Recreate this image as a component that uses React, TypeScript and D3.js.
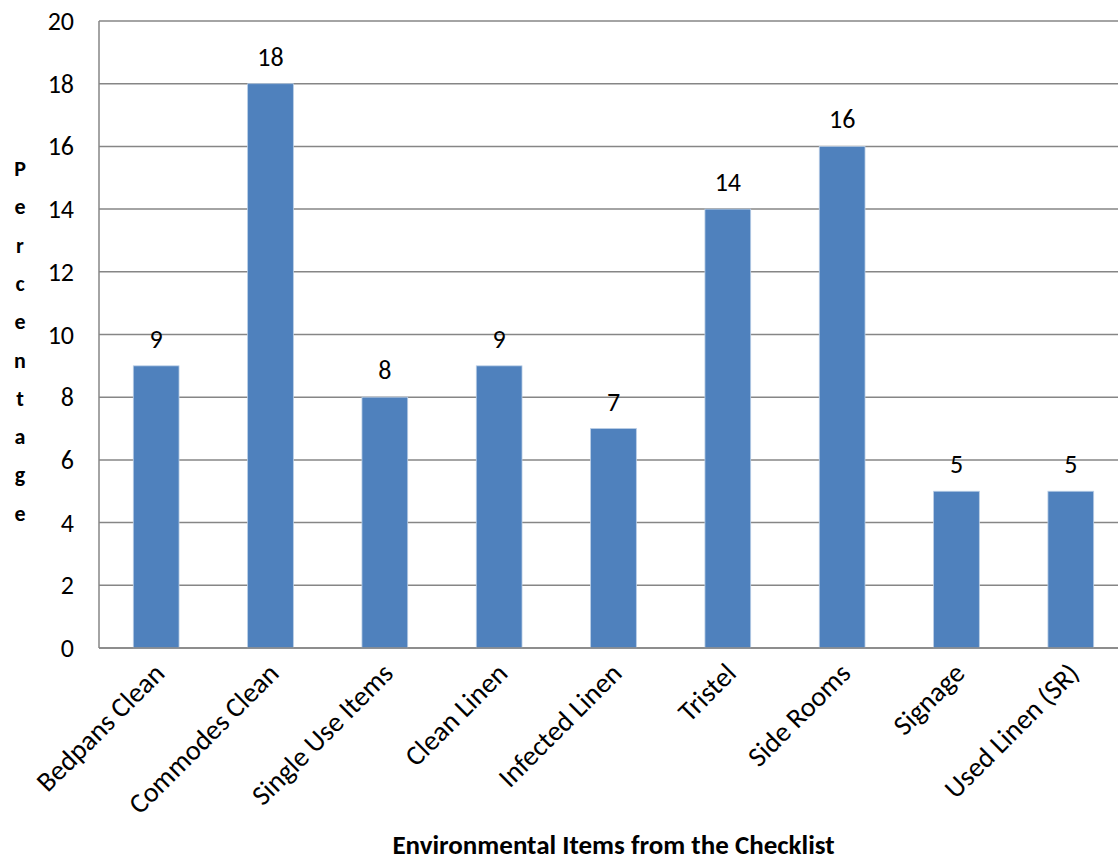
import React from "react";
import * as d3 from "d3";

const categories = [
  "Bedpans Clean",
  "Commodes Clean",
  "Single Use Items",
  "Clean Linen",
  "Infected Linen",
  "Tristel",
  "Side Rooms",
  "Signage",
  "Used Linen (SR)",
];
const values = [9, 18, 8, 9, 7, 14, 16, 5, 5];
const yTicks = [0, 2, 4, 6, 8, 10, 12, 14, 16, 18, 20];
const yTitle = "Percentage";
const xTitle = "Environmental Items from the Checklist";

const W = 1118;
const H = 860;
const FONT = "Carlito, Lato, 'Open Sans', sans-serif";

export default function App() {
  const left = 99;
  const step = 114.33;
  const x = d3
    .scaleBand<string>()
    .domain(categories)
    .range([left, left + step * categories.length])
    .paddingInner(0.6)
    .paddingOuter(0.3);
  const y = d3.scaleLinear().domain([0, 20]).range([648, 21]);

  return (
    <svg
      width={W}
      height={H}
      style={{ position: "absolute", left: 0, top: 0, display: "block", background: "#fff" }}
      fontFamily={FONT}
    >
      {/* gridlines */}
      {yTicks.map((t) => (
        <line
          key={"g" + t}
          x1={left}
          x2={W}
          y1={y(t)}
          y2={y(t)}
          stroke="#868686"
          strokeWidth={1.5}
        />
      ))}
      {/* y axis line */}
      <line x1={left} x2={left} y1={y(20)} y2={y(0)} stroke="#868686" strokeWidth={1.5} />
      {/* bars */}
      {categories.map((c, i) => (
        <rect
          key={c}
          x={x(c)}
          y={y(values[i])}
          width={x.bandwidth()}
          height={y(0) - y(values[i])}
          fill="#4F81BD"
          stroke="#B9CDE5"
          strokeWidth={0.8}
        />
      ))}
      {/* baseline */}
      <line x1={left} x2={W} y1={y(0)} y2={y(0)} stroke="#868686" strokeWidth={1.5} />
      {/* value labels */}
      {categories.map((c, i) => (
        <text
          key={"v" + c}
          x={(x(c) as number) + x.bandwidth() / 2}
          y={y(values[i]) - 18}
          textAnchor="middle"
          fontSize={26}
          fill="#000"
        >
          {values[i]}
        </text>
      ))}
      {/* y tick labels */}
      {yTicks.map((t) => (
        <text
          key={"t" + t}
          x={74}
          y={y(t) + 9}
          textAnchor="end"
          fontSize={26}
          fill="#000"
        >
          {t}
        </text>
      ))}
      {/* category labels */}
      {categories.map((c) => {
        const cx = (x(c) as number) + x.bandwidth() / 2 + 10;
        const cy = 675;
        return (
          <text
            key={"c" + c}
            transform={`translate(${cx},${cy}) rotate(-45)`}
            textAnchor="end"
            fontSize={28}
            fill="#000"
          >
            {c}
          </text>
        );
      })}
      {/* y title, stacked letters */}
      {yTitle.split("").map((ch, i) => (
        <text
          key={"y" + i}
          x={20}
          y={176 + i * 38.3}
          textAnchor="middle"
          fontSize={22}
          fontWeight="bold"
          fill="#000"
        >
          {ch}
        </text>
      ))}
      {/* x title */}
      <text
        x={613.5}
        y={854}
        textAnchor="middle"
        fontSize={27}
        fontWeight="bold"
        fill="#000"
      >
        {xTitle}
      </text>
    </svg>
  );
}
